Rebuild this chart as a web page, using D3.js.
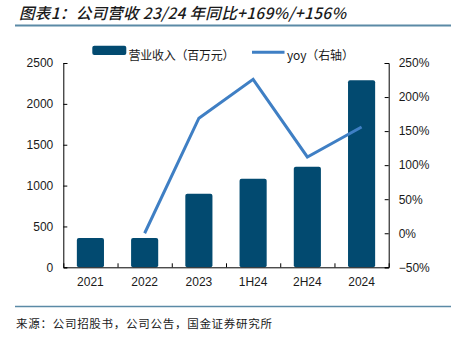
<!DOCTYPE html>
<html>
<head>
<meta charset="utf-8">
<script src="https://cdn.jsdelivr.net/npm/d3@7"></script>
<style>
  html, body { margin: 0; padding: 0; background: #fff; }
  svg { display: block; }
  text { font-family: "Liberation Sans", Arial, "Noto Sans CJK SC", sans-serif; fill: #1a1a1a; }
  .cjk { font-family: "Noto Sans CJK SC", sans-serif; }
</style>
</head>
<body>
<script>
// Revenue (RMB mn) and year-on-year growth by period
const categories = ["2021", "2022", "2023", "1H24", "2H24", "2024"];
const revenue = [360, 360, 900, 1085, 1230, 2290];
const yoy = [null, 0.0, 1.69, 2.26, 1.12, 1.56];
const leftTicks = [0, 500, 1000, 1500, 2000, 2500];
const rightTicks = [-0.5, 0, 0.5, 1.0, 1.5, 2.0, 2.5];

const W = 451, H = 338;
const plot = { left: 63.3, right: 388.7, top: 63, bottom: 267.3 };
const barColor = "#024a70";
const lineColor = "#3f7fc4";
const ruleColor = "#5b8aa6";

const svg = d3.select("body").append("svg").attr("width", W).attr("height", H);

// Title and rules
svg.append("text").attr("class", "cjk")
  .attr("x", 19).attr("y", 19)
  .attr("font-size", 15.5).attr("font-style", "italic").attr("font-weight", 500)
  .attr("textLength", 327).attr("lengthAdjust", "spacing")
  .text("图表1：公司营收 23/24 年同比+169%/+156%");
svg.append("line").attr("x1", 15).attr("x2", W).attr("y1", 25.5).attr("y2", 25.5)
  .attr("stroke", ruleColor).attr("stroke-width", 2);
svg.append("line").attr("x1", 15).attr("x2", W).attr("y1", 306.5).attr("y2", 306.5)
  .attr("stroke", ruleColor).attr("stroke-width", 1.5);
svg.append("text").attr("class", "cjk")
  .attr("x", 16).attr("y", 328).attr("font-size", 11.5)
  .attr("textLength", 256).attr("lengthAdjust", "spacing")
  .text("来源：公司招股书，公司公告，国金证券研究所");

// Scales
const x = d3.scaleBand().domain(categories)
  .range([plot.left, plot.right]).paddingInner(0.5).paddingOuter(0.25);
const yL = d3.scaleLinear().domain([0, 2500]).range([plot.bottom, plot.top]);
const yR = d3.scaleLinear().domain([-0.5, 2.5]).range([plot.bottom, plot.top]);
const xIdx = d3.scaleLinear().domain([0, categories.length]).range([plot.left, plot.right]);

// Bars
svg.append("g").selectAll("rect").data(categories).join("rect")
  .attr("x", d => x(d))
  .attr("width", x.bandwidth())
  .attr("y", (d, i) => yL(revenue[i]))
  .attr("height", (d, i) => yL(0) - yL(revenue[i]))
  .attr("rx", 2).attr("ry", 2)
  .attr("fill", barColor);

// YoY line
const line = d3.line()
  .defined(d => d.v !== null)
  .x(d => x(d.c) + x.bandwidth() / 2)
  .y(d => yR(d.v));
svg.append("path")
  .datum(categories.map((c, i) => ({ c, v: yoy[i] })))
  .attr("d", line)
  .attr("fill", "none").attr("stroke", lineColor).attr("stroke-width", 3)
  .attr("stroke-linejoin", "miter");

// Axes
const axisStyle = g => {
  g.select(".domain").attr("stroke", "#000");
  g.selectAll(".tick line").attr("stroke", "#000");
  g.selectAll(".tick text").attr("font-size", 12).attr("fill", "#1a1a1a")
    .attr("font-family", "'Liberation Sans', Arial, sans-serif");
};

svg.append("g").attr("transform", `translate(${plot.left},0)`)
  .call(d3.axisLeft(yL).tickValues(leftTicks).tickFormat(d3.format("d"))
    .tickSizeInner(-4).tickSizeOuter(-4).tickPadding(10))
  .call(axisStyle);

svg.append("g").attr("transform", `translate(${plot.right},0)`)
  .call(d3.axisRight(yR).tickValues(rightTicks).tickFormat(d3.format(".0%"))
    .tickSizeInner(-4).tickSizeOuter(-4).tickPadding(10))
  .call(axisStyle);

// Category boundary ticks along the baseline
svg.append("g").attr("transform", `translate(0,${plot.bottom})`)
  .call(d3.axisBottom(xIdx).ticks(categories.length).tickFormat("")
    .tickSizeInner(-4).tickSizeOuter(0))
  .call(axisStyle);

// Category labels
svg.append("g").attr("transform", `translate(0,${plot.bottom})`)
  .call(d3.axisBottom(x).tickSize(0).tickPadding(10))
  .call(axisStyle)
  .call(g => g.select(".domain").remove());

// Legend
const lg = svg.append("g");
lg.append("rect").attr("x", 92.3).attr("y", 45.7).attr("width", 34).attr("height", 9.3)
  .attr("rx", 2).attr("fill", barColor);
lg.append("text").attr("class", "cjk").attr("x", 128.5).attr("y", 60).attr("font-size", 12)
  .attr("textLength", 106).attr("lengthAdjust", "spacing")
  .text("营业收入（百万元）");
lg.append("line").attr("x1", 252).attr("x2", 284.5).attr("y1", 52.3).attr("y2", 52.3)
  .attr("stroke", lineColor).attr("stroke-width", 3);
lg.append("text").attr("class", "cjk").attr("x", 287).attr("y", 60).attr("font-size", 12)
  .attr("textLength", 67).attr("lengthAdjust", "spacing")
  .text("yoy（右轴）");
</script>
</body>
</html>
